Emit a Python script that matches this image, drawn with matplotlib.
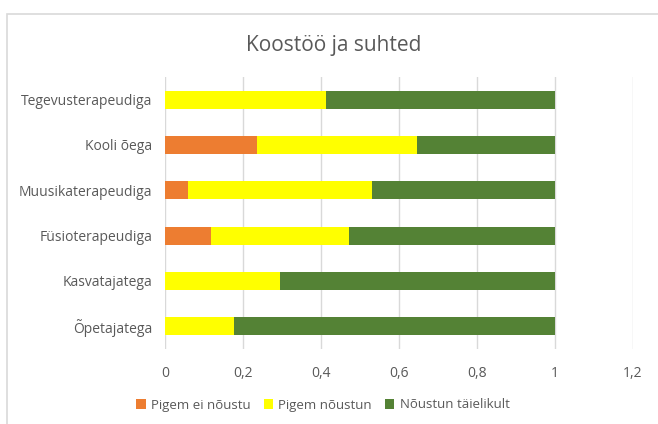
import numpy as np
import matplotlib.pyplot as plt
from matplotlib.patches import Rectangle

# andmed (alt üles)
categories = ['Õpetajatega', 'Kasvatajatega', 'Füsioterapeudiga',
              'Muusikaterapeudiga', 'Kooli õega', 'Tegevusterapeudiga']
pigem_ei = [0.0, 0.0, 0.118, 0.059, 0.235, 0.0]
pigem_jah = [0.176, 0.294, 0.353, 0.471, 0.412, 0.412]
taielikult = [0.824, 0.706, 0.529, 0.471, 0.353, 0.588]
series_names = ['Pigem ei nõustu', 'Pigem nõustun', 'Nõustun täielikult']
xticks = [0, 0.2, 0.4, 0.6, 0.8, 1.0, 1.2]
xtick_labels = ['0', '0,2', '0,4', '0,6', '0,8', '1', '1,2']

plt.rcParams['font.family'] = ['Open Sans', 'DejaVu Sans']
txt = '#595959'

fig = plt.figure(figsize=(6.58, 4.24), dpi=100)
ax = fig.add_axes([165 / 658, 1 - 349 / 424, (633 - 165) / 658, (349 - 77) / 424])

# raam ümber diagrammi
fig.patches.append(Rectangle((7 / 658, -0.1), 1.2, 1 - 14 / 424 + 0.1,
                             transform=fig.transFigure, fill=False,
                             edgecolor='#D9D9D9', linewidth=1.2))

y = np.arange(len(categories))
h = 0.4
left = np.zeros(len(categories))
for vals, col, name in zip([pigem_ei, pigem_jah, taielikult],
                           ['#ED7D31', '#FFFF00', '#548235'], series_names):
    ax.barh(y, vals, height=h, left=left, color=col, label=name, zorder=3)
    left = left + np.array(vals)

ax.set_xlim(0, 1.2)
ax.set_ylim(-0.5, len(categories) - 0.5)
ax.set_yticks(y)
ax.set_yticklabels(categories, color=txt, fontsize=10)
ax.set_xticks(xticks)
ax.set_xticklabels(xtick_labels, color=txt, fontsize=10)
ax.tick_params(length=0, pad=9)
ax.tick_params(axis='x', pad=12)
ax.grid(axis='x', color='#D9D9D9', linewidth=1, zorder=0)
for s in ax.spines.values():
    s.set_visible(False)

fig.text(334 / 658, 1 - 45 / 424, 'Koostöö ja suhted', ha='center', va='center',
         fontsize=15, color=txt)

fig.legend(loc='center', bbox_to_anchor=(323 / 658, 1 - 405 / 424), ncol=3,
           frameon=False, fontsize=9.5, labelcolor=txt, handlelength=0.7,
           handleheight=0.7, handletextpad=0.4, columnspacing=1.0)

fig.savefig('out.png', dpi=100)
